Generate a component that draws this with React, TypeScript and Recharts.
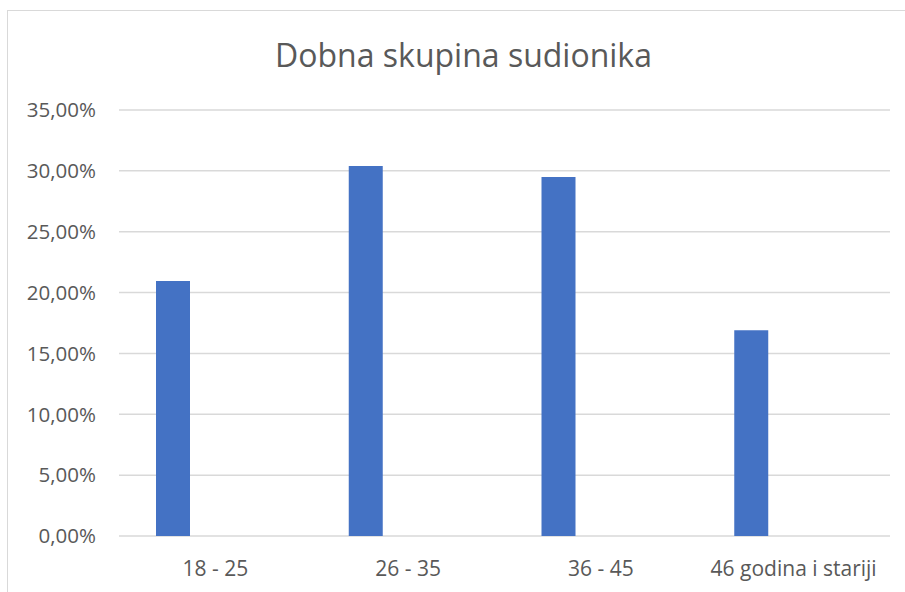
import React from 'react';
import { BarChart, Bar, XAxis, YAxis, CartesianGrid } from 'recharts';

const categories = ['18 - 25', '26 - 35', '36 - 45', '46 godina i stariji'];
const shares = [0.2095, 0.304, 0.295, 0.169];
const yTicks = [0, 0.05, 0.1, 0.15, 0.2, 0.25, 0.3, 0.35];

const chartData = categories.map((name, i) => ({ name, share: shares[i], empty: null }));

const FONT = '"Open Sans", sans-serif';
const TEXT = '#595959';
const GRID = '#d9d9d9';

const pct = (v: number) => (v * 100).toFixed(2).replace('.', ',') + '%';

export default function App() {
  return (
    <div style={{ position: 'fixed', left: 0, top: 0, width: 905, height: 592, overflow: 'hidden', background: '#fff' }}>
      <div
        style={{
          position: 'absolute',
          left: 7,
          top: 10,
          width: 940,
          height: 640,
          border: `1px solid ${GRID}`,
        }}
      />
      <div
        style={{
          position: 'absolute',
          left: 0,
          width: 927,
          top: 33,
          textAlign: 'center',
          fontFamily: FONT,
          fontSize: 32,
          color: TEXT,
          lineHeight: '44px',
        }}
      >
        Dobna skupina sudionika
      </div>
      <div style={{ position: 'absolute', left: 0, top: 0 }}>
        <BarChart
          width={905}
          height={592}
          data={chartData}
          margin={{ top: 110, right: 15, left: 0, bottom: 0 }}
          barSize={34}
          barGap={50}
        >
          <CartesianGrid vertical={false} stroke={GRID} strokeWidth={1.5} />
          <XAxis
            dataKey="name"
            height={56}
            axisLine={false}
            tickLine={false}
            tickSize={0}
            tickMargin={25}
            interval={0}
            tick={{ fill: TEXT, fontSize: 21, fontFamily: FONT }}
          />
          <YAxis
            width={119}
            domain={[0, 0.35]}
            ticks={yTicks}
            tickFormatter={pct}
            axisLine={false}
            tickLine={false}
            tickSize={0}
            tickMargin={23}
            tick={{ fill: TEXT, fontSize: 20.5, fontFamily: FONT }}
          />
          <Bar dataKey="share" fill="#4472c4" isAnimationActive={false} />
          <Bar dataKey="empty" fill="#ed7d31" isAnimationActive={false} />
        </BarChart>
      </div>
    </div>
  );
}
